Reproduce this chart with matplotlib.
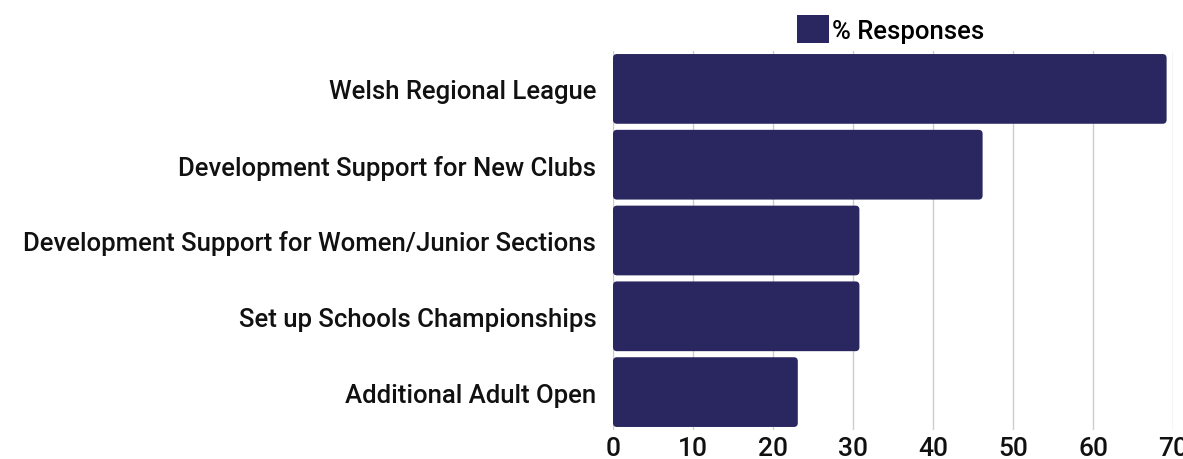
import matplotlib
matplotlib.use("Agg")
import matplotlib.pyplot as plt
from matplotlib.patches import FancyBboxPatch, Patch

categories = [
    "Welsh Regional League",
    "Development Support for New Clubs",
    "Development Support for Women/Junior Sections",
    "Set up Schools Championships",
    "Additional Adult Open",
]
values = [69.2, 46.2, 30.8, 30.8, 23.1]
series_name = "% Responses"
xticks = [0, 10, 20, 30, 40, 50, 60, 70]

color = "#2a2660"
plt.rcParams['font.family'] = ['Roboto', 'DejaVu Sans']
plt.rcParams['font.weight'] = 'medium'

W, H = 1183, 460
fig = plt.figure(figsize=(W / 100, H / 100), dpi=100)
ax = fig.add_axes([613 / W, 1 - 431 / H, (1173 - 613) / W, (431 - 52) / H])

y = list(range(len(categories)))
bars = ax.barh(y, values, height=0.92, color=color)
ax.set_ylim(len(categories) - 0.5, -0.5)
ax.set_xlim(0, 70)

# rounded corners
xpx = (1173 - 613) / 70.0
ypx = (431 - 52) / len(categories)
r = 4.0
for b in bars:
    x0, y0 = b.get_x(), b.get_y()
    w, h = b.get_width(), b.get_height()
    b.set_visible(False)
    p = FancyBboxPatch((x0, y0), w, h,
                       boxstyle=f"round,pad=0,rounding_size={r / xpx}",
                       mutation_aspect=(r / ypx) / (r / xpx),
                       facecolor=color, edgecolor='none', zorder=3)
    ax.add_patch(p)

ax.set_yticks(y)
ax.set_yticklabels(categories, fontsize=18.5, color="#111111", fontweight='medium')
ax.set_xticks(xticks)
ax.set_xticklabels([str(t) for t in xticks], fontsize=19, color="#111111", fontweight='medium')
ax.tick_params(axis='y', length=0, pad=12)
ax.tick_params(axis='x', length=0, pad=4)
ax.grid(axis='x', color='#cccccc', linewidth=1, zorder=0)
ax.set_axisbelow(True)
for s in ax.spines.values():
    s.set_visible(False)

handle = Patch(facecolor=color, edgecolor='none')
fig.legend([handle], [series_name], loc='center', bbox_to_anchor=(891 / W, 1 - 30 / H),
           frameon=False, prop={'size': 18.5, 'weight': 'medium'},
           handlelength=1.25, handleheight=1.25,
           handletextpad=0.12, borderpad=0)

fig.savefig("out.png", dpi=100)
